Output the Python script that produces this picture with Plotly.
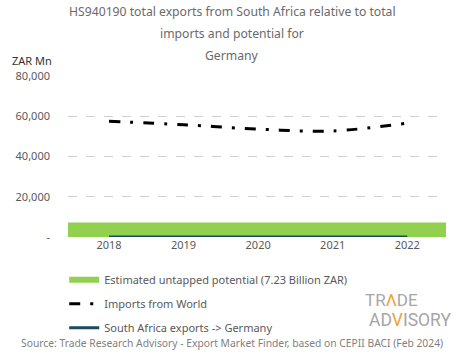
import plotly.graph_objects as go

years = [2018, 2019, 2020, 2021, 2022]
imports_world = [57500, 55800, 53600, 52700, 56600]
sa_exports = [60, 70, 55, 65, 60]
untapped_potential = 7230
y_tick_vals = [0, 20000, 40000, 60000, 80000]
y_tick_text = ["-", "20,000", "40,000", "60,000", "80,000"]
x_range = [2017.45, 2022.52]

title_lines = [
    "HS940190 total exports from South Africa relative to total",
    "imports and potential for",
    "Germany",
]

FONT = "Noto Sans"
GRAY = "#595959"

fig = go.Figure()
fig.add_trace(go.Scatter(
    x=x_range, y=[untapped_potential] * len(x_range),
    mode="none", fill="tozeroy", fillcolor="#92d050",
    name="Estimated untapped potential (7.23 Billion ZAR)",
    legendgroup="a", hoverinfo="skip",
))
fig.add_trace(go.Scatter(
    x=years, y=imports_world, mode="lines",
    line=dict(color="#000000", width=3, dash="11px,10px,3px,10px", shape="spline"),
    name="Imports from World", legendgroup="b",
))
fig.add_trace(go.Scatter(
    x=years, y=sa_exports, mode="lines",
    line=dict(color="#1d4a5c", width=3),
    name="South Africa exports -> Germany", legendgroup="c",
))

annotations = []
for txt, py in zip(title_lines, [12, 34, 55]):
    annotations.append(dict(
        text=txt, xref="paper", yref="paper", x=(232 - 68) / 378, y=(237 - py) / 161,
        xanchor="center", yanchor="middle", showarrow=False,
        font=dict(family=FONT, size=12.2, color="#6a6a6a"),
    ))
annotations.append(dict(
    text="ZAR Mn", xref="paper", yref="paper", x=(10 - 68) / 378, y=(237 - 61) / 161,
    xanchor="left", yanchor="middle", showarrow=False,
    font=dict(family=FONT, size=11, color="#333333"),
))
annotations.append(dict(
    text="Source: Trade Research Advisory - Export Market Finder, based on CEPII BACI (Feb 2024)",
    xref="paper", yref="paper", x=(232 - 68) / 378, y=(237 - 343) / 161,
    xanchor="center", yanchor="middle", showarrow=False,
    font=dict(family=FONT, size=10.3, color="#7f7f7f"),
))
annotations.append(dict(
    text="TR<span style='color:#f0a030'>Λ</span>DE",
    xref="paper", yref="paper", x=(391 - 68) / 378, y=(237 - 300) / 161,
    xanchor="center", yanchor="middle", showarrow=False,
    font=dict(family="Roboto", size=17, color="#a6a6a6"),
))
annotations.append(dict(
    text="AD<span style='color:#f0a030'>V</span>ISORY",
    xref="paper", yref="paper", x=(410 - 68) / 378, y=(237 - 320) / 161,
    xanchor="center", yanchor="middle", showarrow=False,
    font=dict(family="Roboto", size=17.5, color="#a6a6a6"),
))

fig.update_layout(
    width=465, height=359,
    margin=dict(l=68, r=19, t=76, b=122),
    paper_bgcolor="white", plot_bgcolor="white",
    font=dict(family=FONT, size=11, color=GRAY),
    showlegend=True,
    legend=dict(
        x=-0.01, y=-0.175, xanchor="left", yanchor="top",
        traceorder="grouped", tracegroupgap=5,
        font=dict(family=FONT, size=11, color=GRAY),
        bgcolor="rgba(0,0,0,0)",
    ),
    xaxis=dict(
        range=x_range, tickvals=years, ticktext=[str(y) for y in years],
        showgrid=False, zeroline=False, showline=False, ticks="",
        tickfont=dict(family=FONT, size=11, color=GRAY),
    ),
    yaxis=dict(
        range=[0, 80000], tickvals=y_tick_vals, ticktext=y_tick_text,
        showgrid=True, gridcolor="#d0d0d0", griddash="dash", gridwidth=1,
        zeroline=False, showline=False, ticks="", ticklabelstandoff=17,
        tickfont=dict(family=FONT, size=11, color=GRAY),
    ),
    annotations=annotations,
)

fig.write_html("out.html", config={"displayModeBar": False},
               post_script="document.body.style.margin='0px';")
